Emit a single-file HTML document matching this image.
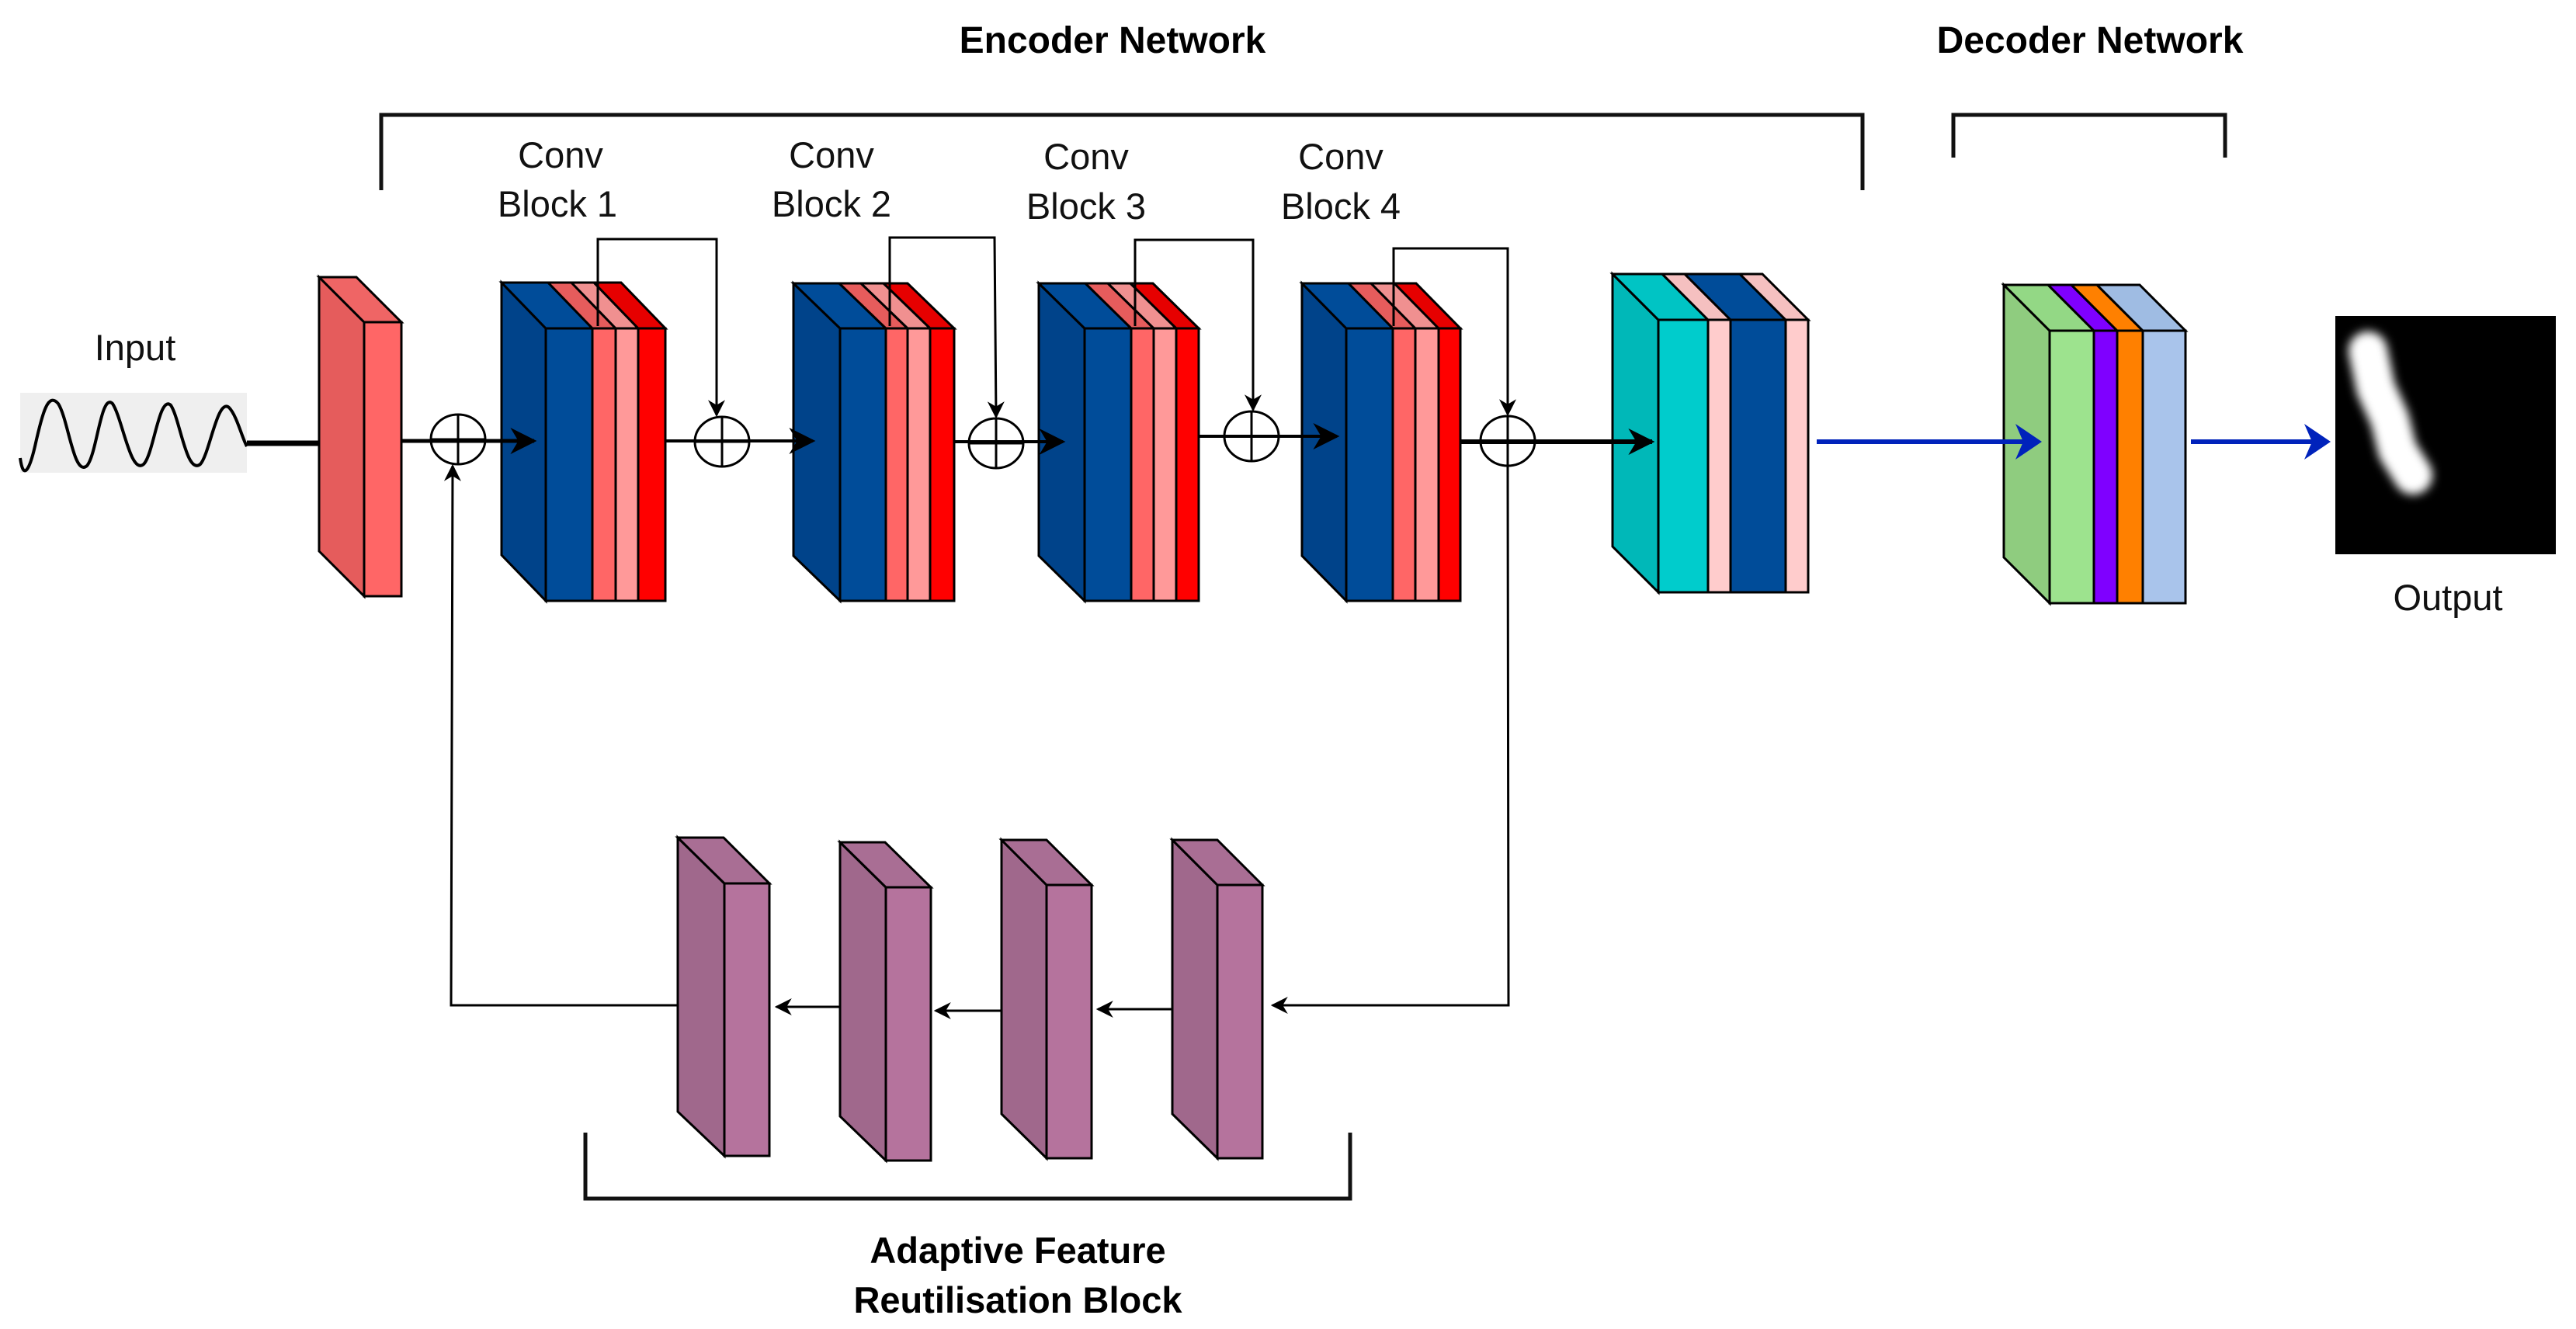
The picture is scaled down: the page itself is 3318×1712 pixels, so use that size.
<!DOCTYPE html>
<html><head><meta charset="utf-8"><style>html,body{margin:0;padding:0;background:#fff}svg{display:block}</style></head>
<body>
<svg width="3318" height="1712" viewBox="0 0 3318 1712" xmlns="http://www.w3.org/2000/svg" font-family="Liberation Sans, sans-serif">
<defs>
<marker id="ah" viewBox="0 0 10 10" refX="9" refY="5" markerWidth="22" markerHeight="26" markerUnits="userSpaceOnUse" orient="auto"><path d="M0,0 L10,5 L0,10 L3,5 z" fill="#000"/></marker>
<marker id="ahb" viewBox="0 0 10 10" refX="9" refY="5" markerWidth="34" markerHeight="40" markerUnits="userSpaceOnUse" orient="auto"><path d="M0,0 L10,5 L0,10 L3,5 z" fill="#000"/></marker>
<filter id="bl" x="-100%" y="-50%" width="300%" height="200%"><feGaussianBlur stdDeviation="6"/></filter>
</defs>
<rect width="3318" height="1712" fill="#fff"/>
<!-- titles -->
<text x="1433" y="68" font-size="48" font-weight="bold" text-anchor="middle">Encoder Network</text>
<text x="2692" y="68" font-size="48" font-weight="bold" text-anchor="middle">Decoder Network</text>
<!-- brackets -->
<polyline points="491,245 491,148 2399,148 2399,245" fill="none" stroke="#111" stroke-width="5"/>
<polyline points="2516,203 2516,148 2866,148 2866,203" fill="none" stroke="#111" stroke-width="5"/>
<polyline points="754,1459 754,1544 1739,1544 1739,1459" fill="none" stroke="#111" stroke-width="5"/>
<!-- conv labels -->
<g font-size="47" text-anchor="middle" fill="#111">
<text x="722" y="216">Conv</text><text x="718" y="279">Block 1</text>
<text x="1071" y="216">Conv</text><text x="1071" y="279">Block 2</text>
<text x="1399" y="218">Conv</text><text x="1399" y="282">Block 3</text>
<text x="1727" y="218">Conv</text><text x="1727" y="282">Block 4</text>
<text x="174" y="464">Input</text>
<text x="3153" y="786">Output</text>
</g>
<g font-size="47" font-weight="bold" text-anchor="middle">
<text x="1311" y="1627">Adaptive Feature</text>
<text x="1311" y="1691">Reutilisation  Block</text>
</g>
<!-- input wave -->
<rect x="26" y="506" width="292" height="103" fill="#efefef"/>
<path d="M26,590 C30,620 38,605 45,575 C55,530 62,505 75,520 C88,540 95,615 112,600 C125,585 130,505 145,520 C158,540 168,612 185,598 C198,585 205,508 220,522 C232,540 240,612 258,598 C270,585 280,512 295,525 C305,535 312,565 318,575" fill="none" stroke="#000" stroke-width="4"/>
<line x1="318" y1="571" x2="442" y2="571" stroke="#000" stroke-width="7" marker-end="url(#ahb)"/>
<!-- red slab -->
<g stroke="#000" stroke-width="3">
<polygon points="411,357 469,415 469,768 411,710" fill="#e55c5c"/>
<polygon points="411,357 459,357 517,415 469,415" fill="#ef6565"/>
<rect x="469" y="415" width="48" height="353" fill="#ff6666"/>
</g>
<!-- Block1 -->
<g stroke="#000" stroke-width="3">
<polygon points="646,364 703,423 703,774 646,715" fill="#00438a"/>
<polygon points="646,364 706,364 763,423 703,423" fill="#004c99"/>
<polygon points="706,364 736,364 793,423 763,423" fill="#e65c5c"/>
<polygon points="736,364 765,364 822,423 793,423" fill="#f09090"/>
<polygon points="765,364 800,364 857,423 822,423" fill="#e60000"/>
<rect x="703" y="423" width="60" height="351" fill="#004c99"/>
<rect x="763" y="423" width="30" height="351" fill="#ff6666"/>
<rect x="793" y="423" width="29" height="351" fill="#ff9999"/>
<rect x="822" y="423" width="35" height="351" fill="#ff0000"/>
</g>
<!-- Block2 -->
<g stroke="#000" stroke-width="3">
<polygon points="1022,365 1082,423 1082,774 1022,716" fill="#00438a"/>
<polygon points="1022,365 1081,365 1141,423 1082,423" fill="#004c99"/>
<polygon points="1081,365 1109,365 1169,423 1141,423" fill="#e65c5c"/>
<polygon points="1109,365 1138,365 1198,423 1169,423" fill="#f09090"/>
<polygon points="1138,365 1169,365 1229,423 1198,423" fill="#e60000"/>
<rect x="1082" y="423" width="59" height="351" fill="#004c99"/>
<rect x="1141" y="423" width="28" height="351" fill="#ff6666"/>
<rect x="1169" y="423" width="29" height="351" fill="#ff9999"/>
<rect x="1198" y="423" width="31" height="351" fill="#ff0000"/>
</g>
<!-- Block3 -->
<g stroke="#000" stroke-width="3">
<polygon points="1338,365 1397,423 1397,774 1338,716" fill="#00438a"/>
<polygon points="1338,365 1398,365 1457,423 1397,423" fill="#004c99"/>
<polygon points="1398,365 1427,365 1486,423 1457,423" fill="#e65c5c"/>
<polygon points="1427,365 1456,365 1515,423 1486,423" fill="#f09090"/>
<polygon points="1456,365 1485,365 1544,423 1515,423" fill="#e60000"/>
<rect x="1397" y="423" width="60" height="351" fill="#004c99"/>
<rect x="1457" y="423" width="29" height="351" fill="#ff6666"/>
<rect x="1486" y="423" width="29" height="351" fill="#ff9999"/>
<rect x="1515" y="423" width="29" height="351" fill="#ff0000"/>
</g>
<!-- Block4 -->
<g stroke="#000" stroke-width="3">
<polygon points="1677,365 1734,423 1734,774 1677,716" fill="#00438a"/>
<polygon points="1677,365 1737,365 1794,423 1734,423" fill="#004c99"/>
<polygon points="1737,365 1766,365 1823,423 1794,423" fill="#e65c5c"/>
<polygon points="1766,365 1796,365 1853,423 1823,423" fill="#f09090"/>
<polygon points="1796,365 1824,365 1881,423 1853,423" fill="#e60000"/>
<rect x="1734" y="423" width="60" height="351" fill="#004c99"/>
<rect x="1794" y="423" width="29" height="351" fill="#ff6666"/>
<rect x="1823" y="423" width="30" height="351" fill="#ff9999"/>
<rect x="1853" y="423" width="28" height="351" fill="#ff0000"/>
</g>
<!-- Teal block -->
<g stroke="#000" stroke-width="3">
<polygon points="2077,353 2136,412 2136,763 2077,704" fill="#00b8b8"/>
<polygon points="2077,353 2141,353 2200,412 2136,412" fill="#00c4c4"/>
<polygon points="2141,353 2170,353 2229,412 2200,412" fill="#f5c0c0"/>
<polygon points="2170,353 2241,353 2300,412 2229,412" fill="#004c99"/>
<polygon points="2241,353 2270,353 2329,412 2300,412" fill="#f5c0c0"/>
<rect x="2136" y="412" width="64" height="351" fill="#00cccc"/>
<rect x="2200" y="412" width="29" height="351" fill="#ffcccc"/>
<rect x="2229" y="412" width="71" height="351" fill="#004c99"/>
<rect x="2300" y="412" width="29" height="351" fill="#ffcccc"/>
</g>
<!-- Decoder block -->
<g stroke="#000" stroke-width="3">
<polygon points="2581,367 2640,426 2640,777 2581,718" fill="#8fcc7f"/>
<polygon points="2581,367 2638,367 2697,426 2640,426" fill="#93d885"/>
<polygon points="2638,367 2668,367 2727,426 2697,426" fill="#7f00ff"/>
<polygon points="2668,367 2701,367 2760,426 2727,426" fill="#ff8000"/>
<polygon points="2701,367 2756,367 2815,426 2760,426" fill="#9fbce3"/>
<rect x="2640" y="426" width="57" height="351" fill="#9de38e"/>
<rect x="2697" y="426" width="30" height="351" fill="#7f00ff"/>
<rect x="2727" y="426" width="33" height="351" fill="#ff8000"/>
<rect x="2760" y="426" width="55" height="351" fill="#a9c4eb"/>
</g>
<!-- output image -->
<rect x="3008" y="407" width="284" height="307" fill="#000"/>
<polyline points="3050,452 3060,500 3078,540 3088,580 3108,612" fill="none" stroke="#fff" stroke-width="50" stroke-linecap="round" stroke-linejoin="round" filter="url(#bl)"/>
<!-- main connectors -->
<g fill="none" stroke="#000" stroke-width="4">
<line x1="517" y1="568" x2="688" y2="568" stroke-width="5" marker-end="url(#ahb)"/>
<line x1="857" y1="568" x2="1047" y2="568" marker-end="url(#ahb)"/>
<line x1="1229" y1="569" x2="1369" y2="569" marker-end="url(#ahb)"/>
<line x1="1544" y1="562" x2="1722" y2="562" marker-end="url(#ahb)"/>
<line x1="1881" y1="569" x2="2128" y2="569" stroke-width="6" marker-end="url(#ahb)"/>
</g>
<g stroke="#0022bb" stroke-width="6" fill="none">
<line x1="2340" y1="569" x2="2620" y2="569"/>
<line x1="2822" y1="569" x2="2992" y2="569"/>
</g>
<polygon points="2596,546 2630,569 2596,592 2606,569" fill="#0022bb"/>
<polygon points="2968,546 3002,569 2968,592 2978,569" fill="#0022bb"/>
<!-- sum circles -->
<g fill="none" stroke="#000" stroke-width="3">
<ellipse cx="590" cy="566" rx="35" ry="32"/><line x1="590" y1="534" x2="590" y2="598"/><line x1="555" y1="566" x2="625" y2="566"/>
<ellipse cx="930" cy="569" rx="35" ry="32"/><line x1="930" y1="537" x2="930" y2="601"/><line x1="895" y1="569" x2="965" y2="569"/>
<ellipse cx="1283" cy="571" rx="35" ry="32"/><line x1="1283" y1="539" x2="1283" y2="603"/><line x1="1248" y1="571" x2="1318" y2="571"/>
<ellipse cx="1612" cy="562" rx="35" ry="32"/><line x1="1612" y1="530" x2="1612" y2="594"/><line x1="1577" y1="562" x2="1647" y2="562"/>
<ellipse cx="1942" cy="568" rx="35" ry="32"/><line x1="1942" y1="536" x2="1942" y2="600"/><line x1="1907" y1="568" x2="1977" y2="568"/>
</g>
<!-- skip loops -->
<g fill="none" stroke="#000" stroke-width="3">
<polyline points="770,420 770,308 923,308 923,535" marker-end="url(#ah)"/>
<polyline points="1146,420 1146,306 1281,306 1283,537" marker-end="url(#ah)"/>
<polyline points="1462,420 1462,309 1614,309 1614,528" marker-end="url(#ah)"/>
<polyline points="1795,420 1795,320 1942,320 1942,534" marker-end="url(#ah)"/>
<polyline points="1942,600 1943,1295 1639,1295" marker-end="url(#ah)"/>
<line x1="1532" y1="1300" x2="1414" y2="1300" marker-end="url(#ah)"/>
<line x1="1318" y1="1302" x2="1205" y2="1302" marker-end="url(#ah)"/>
<line x1="1114" y1="1297" x2="1000" y2="1297" marker-end="url(#ah)"/>
<polyline points="888,1295 581,1295 583,600" marker-end="url(#ah)"/>
</g>
<!-- purple slabs -->
<g stroke="#000" stroke-width="3">
<polygon points="873,1079 933,1138 933,1489 873,1432" fill="#a0688c"/>
<polygon points="873,1079 932,1079 991,1138 933,1138" fill="#a96e94"/>
<rect x="933" y="1138" width="58" height="351" fill="#b5739d"/>
<polygon points="1082,1085 1141,1143 1141,1495 1082,1438" fill="#a0688c"/>
<polygon points="1082,1085 1140,1085 1199,1143 1141,1143" fill="#a96e94"/>
<rect x="1141" y="1143" width="58" height="352" fill="#b5739d"/>
<polygon points="1290,1082 1348,1140 1348,1492 1290,1435" fill="#a0688c"/>
<polygon points="1290,1082 1348,1082 1406,1140 1348,1140" fill="#a96e94"/>
<rect x="1348" y="1140" width="58" height="352" fill="#b5739d"/>
<polygon points="1510,1082 1568,1140 1568,1492 1510,1435" fill="#a0688c"/>
<polygon points="1510,1082 1568,1082 1626,1140 1568,1140" fill="#a96e94"/>
<rect x="1568" y="1140" width="58" height="352" fill="#b5739d"/>
</g>
</svg>
</body></html>
